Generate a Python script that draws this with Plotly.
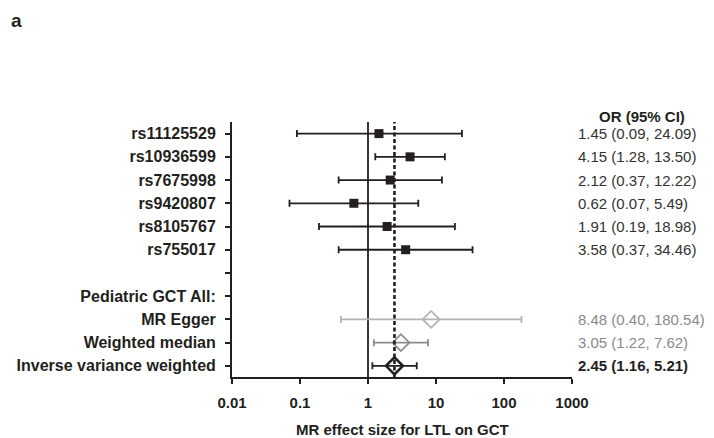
import plotly.graph_objects as go

row_labels = ["rs11125529", "rs10936599", "rs7675998", "rs9420807", "rs8105767", "rs755017",
              "", "Pediatric GCT All:", "MR Egger", "Weighted median", "Inverse variance weighted"]

snp_names = ["rs11125529", "rs10936599", "rs7675998", "rs9420807", "rs8105767", "rs755017"]
snp_or = [1.45, 4.15, 2.12, 0.62, 1.91, 3.58]
snp_lo = [0.09, 1.28, 0.37, 0.07, 0.19, 0.37]
snp_hi = [24.09, 13.50, 12.22, 5.49, 18.98, 34.46]

method_names = ["MR Egger", "Weighted median", "Inverse variance weighted"]
method_or = [8.48, 3.05, 2.45]
method_lo = [0.40, 1.22, 1.16]
method_hi = [180.54, 7.62, 5.21]
method_colors = ["#b3b3b3", "#8c8c8c", "#231f20"]

x_tickvals = [0.01, 0.1, 1, 10, 100, 1000]
x_ticktext = ["0.01", "0.1", "1", "10", "100", "1000"]
x_title = "MR effect size for LTL on GCT"

ivw_estimate = method_or[2]

FONT = "Liberation Sans, Arial, sans-serif"
INK = "#231f20"

fig = go.Figure()

snp_rows = [row_labels.index(n) for n in snp_names]
fig.add_trace(go.Scatter(
    x=snp_or, y=snp_rows, mode="markers",
    marker=dict(symbol="square", size=9, color=INK),
    error_x=dict(type="data", symmetric=False,
                 array=[h - o for h, o in zip(snp_hi, snp_or)],
                 arrayminus=[o - l for o, l in zip(snp_or, snp_lo)],
                 color=INK, thickness=1.8, width=3.5),
    showlegend=False, hoverinfo="skip"))

for name, o, l, h, c in zip(method_names, method_or, method_lo, method_hi, method_colors):
    r = row_labels.index(name)
    lw = 2.6 if name == "Inverse variance weighted" else 1.8
    fig.add_trace(go.Scatter(
        x=[o], y=[r], mode="markers",
        marker=dict(symbol="diamond-open", size=13, color=c, line=dict(color=c, width=lw)),
        error_x=dict(type="data", symmetric=False, array=[h - o], arrayminus=[o - l],
                     color=c, thickness=1.8, width=3.5),
        showlegend=False, hoverinfo="skip"))

# reference lines
fig.add_shape(type="line", xref="x", yref="paper", x0=1, x1=1, y0=0, y1=1,
              line=dict(color=INK, width=1.8), layer="below")
fig.add_shape(type="line", xref="x", yref="paper", x0=ivw_estimate, x1=ivw_estimate, y0=0, y1=1,
              line=dict(color=INK, width=2.6, dash="4px,2.5px"), layer="above")

# right-hand OR column
annotations = [dict(text="<b>OR (95% CI)</b>", xref="paper", yref="paper", x=1.205, y=1.02,
                    yanchor="middle", xanchor="center", showarrow=False,
                    font=dict(family=FONT, size=15, color=INK))]
for n, o, l, h in zip(snp_names, snp_or, snp_lo, snp_hi):
    annotations.append(dict(text=f"{o:.2f} ({l:.2f}, {h:.2f})", xref="paper", yref="y",
                            x=1.013, y=row_labels.index(n), xanchor="left", yanchor="middle",
                            showarrow=False, font=dict(family=FONT, size=15, color="#333333")))
text_colors = ["#8a8a8a", "#8a8a8a", INK]
for n, o, l, h, c in zip(method_names, method_or, method_lo, method_hi, text_colors):
    t = f"{o:.2f} ({l:.2f}, {h:.2f})"
    if n == "Inverse variance weighted":
        t = f"<b>{t}</b>"
    annotations.append(dict(text=t, xref="paper", yref="y",
                            x=1.013, y=row_labels.index(n), xanchor="left", yanchor="middle",
                            showarrow=False, font=dict(family=FONT, size=15, color=c)))
# x-axis title
annotations.append(dict(text=f"<b>{x_title}</b>", xref="paper", yref="paper", x=0.5, y=-0.204,
                        xanchor="center", yanchor="middle", showarrow=False,
                        font=dict(family=FONT, size=15, color=INK)))
# panel letter
annotations.append(dict(text="<b>a</b>", xref="paper", yref="paper", x=-0.652, y=1.444,
                        xanchor="left", yanchor="top", showarrow=False, borderpad=0,
                        font=dict(family=FONT, size=19, color=INK)))

# the page body adds an 8px margin, so the figure is sized to fill the window from there
fig.update_layout(
    width=706, height=430,
    margin=dict(l=224, r=142, t=114, b=61),
    paper_bgcolor="white", plot_bgcolor="white",
    font=dict(family=FONT, color=INK),
    annotations=annotations,
    xaxis=dict(type="log", range=[-2, 3], tickvals=x_tickvals,
               ticktext=[f"<b>{t}</b>" for t in x_ticktext],
               ticks="outside", ticklen=5, tickwidth=1.8, tickcolor=INK,
               showline=True, linecolor=INK, linewidth=2, showgrid=False, zeroline=False,
               tickfont=dict(family=FONT, size=15, color=INK), ticklabelstandoff=6,
               automargin=False),
    yaxis=dict(range=[10.48, -0.5], tickvals=list(range(len(row_labels))),
               ticktext=[f"<b>{t}</b>" if t else "" for t in row_labels],
               ticks="outside", ticklen=5, tickwidth=1.8, tickcolor=INK,
               showline=True, linecolor=INK, linewidth=2, showgrid=False, zeroline=False,
               tickfont=dict(family=FONT, size=16, color=INK), ticklabelstandoff=6,
               automargin=False),
)

fig.write_html("out.html")
